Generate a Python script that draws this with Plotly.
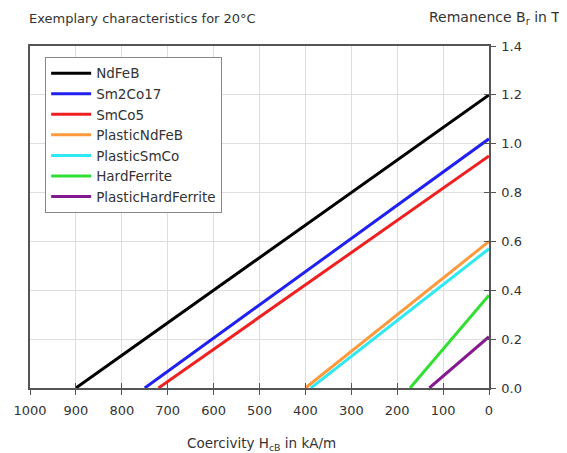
import plotly.graph_objects as go

materials = ["NdFeB", "Sm2Co17", "SmCo5", "PlasticNdFeB", "PlasticSmCo", "HardFerrite", "PlasticHardFerrite"]
coercivity = [900, 750, 720, 400, 388, 172, 130]   # kA/m, where line meets B=0
remanence = [1.20, 1.02, 0.95, 0.60, 0.57, 0.38, 0.21]  # T at H=0
colors = ["#000000", "#2020f0", "#f02020", "#ff9a3c", "#30e8f2", "#30e030", "#85198f"]

x_ticks = [1000, 900, 800, 700, 600, 500, 400, 300, 200, 100, 0]
y_ticks = [0.0, 0.2, 0.4, 0.6, 0.8, 1.0, 1.2, 1.4]

font_family = "DejaVu Sans, Liberation Sans, sans-serif"
txt = "#333333"
axc = "#555555"

fig = go.Figure()
for name, hc, br, c in zip(materials, coercivity, remanence, colors):
    fig.add_trace(go.Scatter(x=[hc, 0], y=[0, br], mode="lines", name=name,
                             line=dict(color=c, width=3)))

# invisible trace for crossing ticks (inside ticks on overlay axes)
fig.add_trace(go.Scatter(x=[0], y=[0], xaxis="x2", yaxis="y2", mode="markers",
                         marker=dict(opacity=0), showlegend=False, hoverinfo="skip"))

# page body has an 8px margin, so the figure is placed at (8, 8)
fig.update_layout(
    width=559, height=445,
    margin=dict(l=22, r=78, t=38, b=65),
    paper_bgcolor="white", plot_bgcolor="white",
    font=dict(family=font_family, size=13, color=txt),
    xaxis=dict(range=[1000, 0], tickvals=x_ticks, ticktext=[str(v) for v in x_ticks],
               showgrid=True, gridcolor="#dedede", gridwidth=1, automargin=False,
               zeroline=False, showline=True, linecolor=axc, linewidth=1.5,
               mirror=True, ticks="outside", ticklen=5, tickcolor=axc,
               ticklabelstandoff=5,
               tickfont=dict(size=13, color=txt)),
    yaxis=dict(range=[0, 1.4], side="right", tickvals=y_ticks,
               ticktext=[f"{v:.1f}" for v in y_ticks], automargin=False,
               showgrid=True, gridcolor="#dedede", gridwidth=1,
               zeroline=False, showline=True, linecolor=axc, linewidth=1.5,
               mirror=True, ticks="outside", ticklen=5, tickcolor=axc,
               ticklabelstandoff=3,
               tickfont=dict(size=13, color=txt)),
    xaxis2=dict(range=[1000, 0], overlaying="x", tickvals=x_ticks, showticklabels=False,
                showgrid=False, zeroline=False, showline=False, ticks="inside",
                ticklen=5, tickcolor=axc, side="bottom", automargin=False),
    yaxis2=dict(range=[0, 1.4], overlaying="y", side="right", tickvals=y_ticks,
                showticklabels=False, showgrid=False, zeroline=False, showline=False,
                ticks="inside", ticklen=5, tickcolor=axc, automargin=False),
    legend=dict(x=0.033, y=0.968, xanchor="left", yanchor="top",
                bgcolor="white", bordercolor="#888888", borderwidth=1,
                itemwidth=40,
                font=dict(size=13.5, color=txt), tracegroupgap=0),
    showlegend=True,
)

fig.add_annotation(text="Exemplary characteristics for 20°C", xref="paper", yref="paper",
                   x=0.0, xshift=-3, y=1.0, yshift=28, xanchor="left", yanchor="middle",
                   showarrow=False, font=dict(size=13, color=txt))
fig.add_annotation(text="Remanence B<sub>r</sub> in T", xref="paper", yref="paper",
                   x=1.0, xshift=-62, y=1.0, yshift=28, xanchor="left", yanchor="middle",
                   showarrow=False, font=dict(size=14, color=txt))
fig.add_annotation(text="Coercivity H<sub>cB</sub> in kA/m", xref="paper", yref="paper",
                   x=0.5, xshift=2, y=0.0, yshift=-56, xanchor="center", yanchor="middle",
                   showarrow=False, font=dict(size=13.5, color=txt))

fig.write_html("out.html")
